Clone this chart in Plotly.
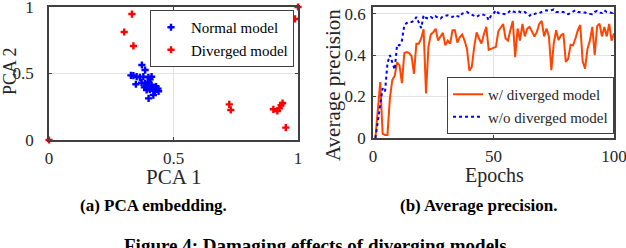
import plotly.graph_objects as go

# ---------------- data ----------------
normal_x = [0.373, 0.386, 0.329, 0.339, 0.352, 0.365, 0.379, 0.399, 0.412, 0.406,
            0.349, 0.372, 0.386, 0.399, 0.390, 0.402, 0.412, 0.392, 0.419, 0.430,
            0.432, 0.440, 0.419, 0.400, 0.383, 0.438, 0.410, 0.425, 0.395, 0.405]
normal_y = [0.564, 0.526, 0.486, 0.484, 0.476, 0.471, 0.476, 0.471, 0.476, 0.456,
            0.419, 0.431, 0.426, 0.436, 0.401, 0.406, 0.413, 0.376, 0.396, 0.401,
            0.381, 0.366, 0.338, 0.313, 0.396, 0.386, 0.390, 0.370, 0.390, 0.380]
diverged_x = [0.333, 0.302, 0.339, 0.0, 1.0, 0.988, 0.724, 0.730, 0.901, 0.917,
              0.925, 0.932, 0.938, 0.951]
diverged_y = [0.947, 0.812, 0.707, 0.0, 1.0, 0.910, 0.268, 0.226, 0.231, 0.218,
              0.238, 0.261, 0.278, 0.093]

epochs = list(range(1, 101))
ap_with = [0.0, 0.13, 0.27, 0.02, 0.015, 0.015, 0.19, 0.28, 0.30, 0.365,
           0.35, 0.265, 0.41, 0.415, 0.41, 0.395, 0.31, 0.455, 0.455, 0.48,
           0.525, 0.215, 0.44, 0.50, 0.51, 0.527, 0.47, 0.49, 0.507, 0.447,
           0.47, 0.455, 0.52, 0.52, 0.46, 0.486, 0.50, 0.47, 0.43, 0.325,
           0.343, 0.44, 0.51, 0.48, 0.456, 0.50, 0.536, 0.425, 0.431, 0.435,
           0.44, 0.515, 0.53, 0.55, 0.48, 0.47, 0.52, 0.565, 0.39, 0.528,
           0.47, 0.55, 0.49, 0.528, 0.536, 0.512, 0.49, 0.512, 0.55, 0.565,
           0.49, 0.528, 0.49, 0.327, 0.456, 0.52, 0.472, 0.495, 0.504, 0.367,
           0.383, 0.45, 0.447, 0.48, 0.52, 0.545, 0.37, 0.335, 0.43, 0.47,
           0.536, 0.40, 0.54, 0.552, 0.49, 0.536, 0.49, 0.55, 0.47, 0.505]
ap_without = [0.0, 0.08, 0.17, 0.24, 0.225, 0.36, 0.40, 0.36, 0.33, 0.45,
              0.447, 0.47, 0.545, 0.555, 0.56, 0.56, 0.565, 0.584, 0.555, 0.53,
              0.592, 0.58, 0.576, 0.584, 0.576, 0.587, 0.58, 0.576, 0.587, 0.59,
              0.592, 0.587, 0.584, 0.592, 0.588, 0.584, 0.60, 0.605, 0.608, 0.60,
              0.595, 0.592, 0.584, 0.592, 0.597, 0.594, 0.592, 0.568, 0.592, 0.60,
              0.616, 0.603, 0.60, 0.598, 0.597, 0.603, 0.616, 0.61, 0.608, 0.613,
              0.608, 0.603, 0.608, 0.597, 0.59, 0.60, 0.598, 0.603, 0.603, 0.608,
              0.612, 0.616, 0.613, 0.615, 0.62, 0.608, 0.608, 0.608, 0.608, 0.60,
              0.597, 0.603, 0.61, 0.616, 0.608, 0.608, 0.608, 0.605, 0.60, 0.597,
              0.597, 0.608, 0.613, 0.605, 0.603, 0.616, 0.608, 0.608, 0.603, 0.603]

pca_ticks = [0, 0.5, 1]
pca_ticktext = ["0", "0.5", "1"]
ep_ticks = [0, 50, 100]
ap_ticks = [0, 0.2, 0.4, 0.6]
ap_ticktext = ["0", "0.2", "0.4", "0.6"]

W, H = 626, 248
SERIF = "Liberation Serif, Times New Roman, serif"
AX = "#404040"
TXT = "#262626"
GRID = "#e3e3e3"

def px(x):
    return x / W

def py(y):
    return 1 - y / H

fig = go.Figure()
fig.add_trace(go.Scatter(x=normal_x, y=normal_y, mode="markers", name="Normal model",
                         marker=dict(symbol="cross", size=6, color="#0000ff"),
                         xaxis="x", yaxis="y", legend="legend", cliponaxis=False))
fig.add_trace(go.Scatter(x=diverged_x, y=diverged_y, mode="markers", name="Diverged model",
                         marker=dict(symbol="cross", size=6, color="#ff0000"),
                         xaxis="x", yaxis="y", legend="legend", cliponaxis=False))
fig.add_trace(go.Scatter(x=epochs, y=ap_with, mode="lines", name="w/ diverged model",
                         line=dict(color="#ff4500", width=2),
                         xaxis="x2", yaxis="y2", legend="legend2"))
fig.add_trace(go.Scatter(x=epochs, y=ap_without, mode="lines", name="w/o diverged model",
                         line=dict(color="#0000ff", width=2, dash="dot"),
                         xaxis="x2", yaxis="y2", legend="legend2"))

axcommon = dict(showline=True, linecolor=AX, linewidth=1.5, mirror="allticks",
                ticks="inside", ticklen=3, tickcolor=AX, showgrid=True, gridcolor=GRID,
                gridwidth=1, zeroline=False, automargin=False, ticklabeloverflow="allow",
                tickfont=dict(family=SERIF, size=17, color=TXT))

fig.update_layout(
    template="none",
    width=W, height=H, margin=dict(l=0, r=0, t=0, b=0, autoexpand=False),
    font=dict(family=SERIF, color=TXT),
    paper_bgcolor="white", plot_bgcolor="white", showlegend=True,
    xaxis=dict(domain=[px(49), px(298)], range=[0, 1], tickvals=pca_ticks,
               ticktext=pca_ticktext, anchor="y", ticklabelstandoff=2, **axcommon),
    yaxis=dict(domain=[py(140), py(7)], range=[0, 1], tickvals=pca_ticks,
               ticktext=pca_ticktext, anchor="x", ticklabelstandoff=10, **axcommon),
    xaxis2=dict(domain=[px(373), px(614)], range=[0, 100], tickvals=ep_ticks,
                anchor="y2", ticklabelstandoff=2, **axcommon),
    yaxis2=dict(domain=[py(138), py(7)], range=[0, 0.632], tickvals=ap_ticks,
                ticktext=ap_ticktext, anchor="x2", ticklabelstandoff=2, **axcommon),
    legend=dict(x=px(294), y=py(10), xanchor="right", yanchor="top",
                bgcolor="white", bordercolor=AX, borderwidth=1,
                font=dict(family=SERIF, size=15, color="black"),
                itemwidth=30, tracegroupgap=0),
    legend2=dict(x=px(614), y=py(134), xanchor="right", yanchor="bottom",
                 bgcolor="white", bordercolor=AX, borderwidth=1,
                 font=dict(family=SERIF, size=15, color=TXT),
                 itemwidth=30, tracegroupgap=0),
)

annots = [
    dict(text="PCA 1", x=px(173), y=py(177), size=21, angle=0, bold=False),
    dict(text="PCA 2", x=px(10), y=py(71), size=18, angle=-90, bold=False),
    dict(text="Epochs", x=px(494), y=py(175), size=20, angle=0, bold=False),
    dict(text="(a) PCA embedding.", x=px(153), y=py(205), size=17, angle=0, bold=True),
    dict(text="(b) Average precision.", x=px(479), y=py(205), size=17, angle=0, bold=True),
    dict(text="Figure 4: Damaging effects of diverging models", x=px(315), y=py(245),
         size=19, angle=0, bold=True),
]
for a in annots:
    fig.add_annotation(text=("<b>%s</b>" % a["text"]) if a["bold"] else a["text"],
                       x=a["x"], y=a["y"], xref="paper", yref="paper",
                       xanchor="center", yanchor="middle", showarrow=False,
                       textangle=a["angle"],
                       font=dict(family=SERIF, size=a["size"],
                                 color="black" if a["bold"] else TXT))
fig.add_annotation(text="Average precision", x=px(333), y=py(163), xref="paper", yref="paper",
                   xanchor="center", yanchor="bottom", showarrow=False, textangle=-90,
                   font=dict(family=SERIF, size=21, color=TXT))

fig.write_html("out.html", config={"displayModeBar": False},
               post_script="document.body.style.margin='0';document.body.style.overflow='hidden';")
